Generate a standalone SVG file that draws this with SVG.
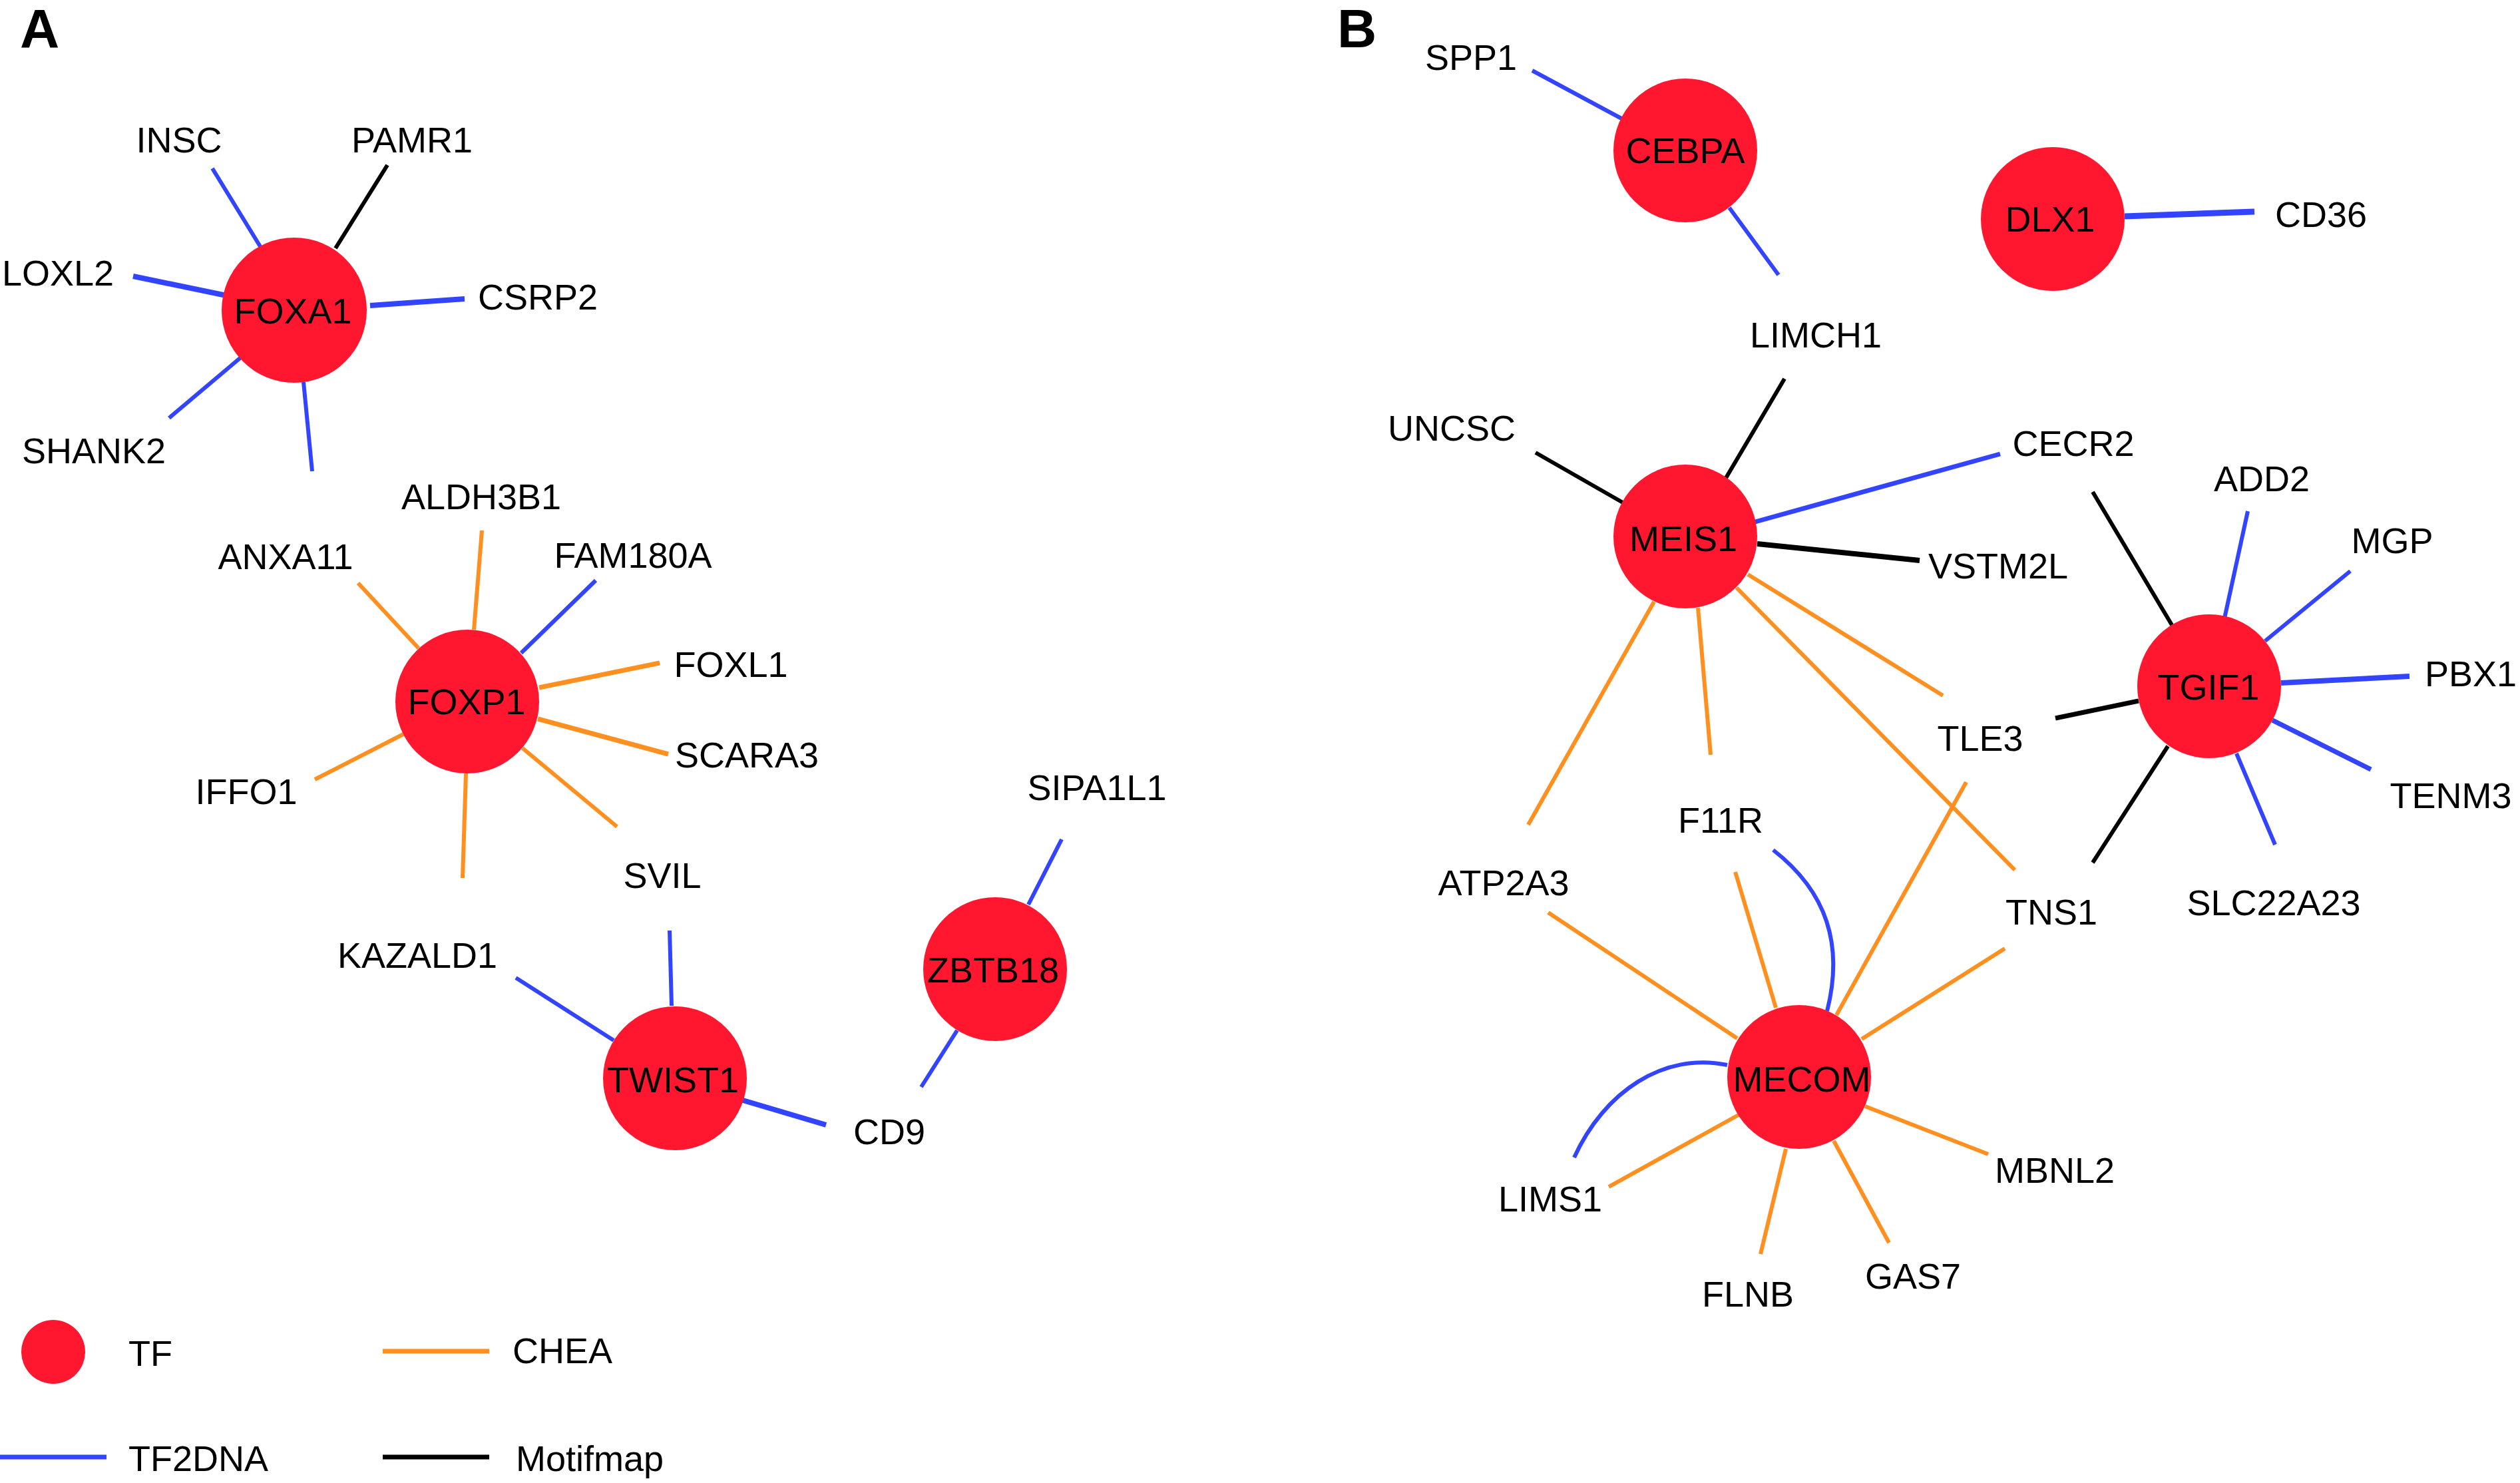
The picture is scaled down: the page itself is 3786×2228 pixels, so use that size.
<svg xmlns="http://www.w3.org/2000/svg" width="3786" height="2228" viewBox="0 0 3786 2228">
<style>
text{font-family:"Liberation Sans",Arial,Helvetica,sans-serif;font-size:54px;fill:#000}
.c{text-anchor:middle}
.panel{font-weight:bold;font-size:82px}
.tf{fill:#FF172F}
line,path{fill:none;stroke-width:6;stroke-linecap:butt}
.b{stroke:#3344FF}
.o{stroke:#FF8F1F}
.k{stroke:#000}
.w7{stroke-width:7}
.w8{stroke-width:8}
.w9{stroke-width:9}
</style>
<rect width="3786" height="2228" fill="#fff"/>
<text class="panel" x="30" y="71">A</text>
<text class="panel" x="2009" y="71">B</text>
<g id="connectors">
<line class="b" x1="319" y1="253" x2="392" y2="372"/>
<line class="k" x1="582" y1="248" x2="504" y2="373"/>
<line class="b w8" x1="200" y1="415" x2="340" y2="444"/>
<line class="b w8" x1="556" y1="459" x2="698" y2="449"/>
<line class="b" x1="254" y1="628" x2="363" y2="536"/>
<line class="b" x1="456" y1="574" x2="469" y2="708"/>
<line class="o" x1="724" y1="797" x2="712" y2="946"/>
<line class="o" x1="538" y1="876" x2="629" y2="974"/>
<line class="b" x1="895" y1="872" x2="783" y2="981"/>
<line class="o w7" x1="991" y1="996" x2="810" y2="1033"/>
<line class="o w7" x1="1004" y1="1133" x2="808" y2="1080"/>
<line class="o" x1="927" y1="1242" x2="785" y2="1124"/>
<line class="o" x1="473" y1="1171" x2="606" y2="1103"/>
<line class="o" x1="700" y1="1162" x2="695" y2="1319"/>
<line class="b" x1="1006" y1="1398" x2="1009" y2="1511"/>
<line class="b" x1="775" y1="1469" x2="922" y2="1563"/>
<line class="b w8" x1="1116" y1="1653" x2="1241" y2="1690"/>
<line class="b" x1="1595" y1="1261" x2="1545" y2="1359"/>
<line class="b" x1="1438" y1="1548" x2="1384" y2="1633"/>
<line class="b" x1="2302" y1="106" x2="2436" y2="178"/>
<line class="b" x1="2598" y1="312" x2="2672" y2="413"/>
<line class="b w9" x1="3192" y1="325" x2="3387" y2="318"/>
<line class="k" x1="2681" y1="569" x2="2593" y2="718"/>
<line class="k" x1="2307" y1="680" x2="2438" y2="755"/>
<line class="b w7" x1="3005" y1="682" x2="2637" y2="784"/>
<line class="k w8" x1="2884" y1="842" x2="2640" y2="817"/>
<line class="o" x1="2626" y1="863" x2="2919" y2="1045"/>
<line class="o" x1="2609" y1="883" x2="3027" y2="1307"/>
<line class="o" x1="2551" y1="913" x2="2570" y2="1134"/>
<line class="o" x1="2485" y1="904" x2="2296" y2="1239"/>
<line class="b" x1="3377" y1="768" x2="3342" y2="929"/>
<line class="k" x1="3144" y1="739" x2="3263" y2="939"/>
<line class="b" x1="3531" y1="858" x2="3403" y2="963"/>
<line class="b w8" x1="3620" y1="1016" x2="3427" y2="1026"/>
<line class="b w7" x1="3562" y1="1156" x2="3414" y2="1082"/>
<line class="b" x1="3418" y1="1269" x2="3360" y2="1132"/>
<line class="k w7" x1="3088" y1="1079" x2="3213" y2="1053"/>
<line class="k" x1="3144" y1="1296" x2="3257" y2="1121"/>
<line class="o" x1="2954" y1="1175" x2="2759" y2="1525"/>
<line class="o" x1="3012" y1="1425" x2="2797" y2="1561"/>
<line class="o" x1="2607" y1="1310" x2="2668" y2="1514"/>
<line class="o" x1="2326" y1="1371" x2="2610" y2="1560"/>
<line class="o" x1="2417" y1="1783" x2="2612" y2="1675"/>
<line class="o" x1="2645" y1="1884" x2="2683" y2="1726"/>
<line class="o" x1="2838" y1="1867" x2="2755" y2="1714"/>
<line class="o" x1="2987" y1="1734" x2="2802" y2="1662"/>
<path class="b" d="M2664,1277 C2745,1340 2770,1420 2745,1519"/>
<path class="b" d="M2365,1739 C2410,1640 2500,1580 2595,1600"/>
</g>
<g id="FOXA1"><circle class="tf" cx="442" cy="466" r="109"/><text class="c" x="440" y="486">FOXA1</text></g>
<g id="FOXP1"><circle class="tf" cx="702" cy="1054" r="108"/><text class="c" x="701" y="1073">FOXP1</text></g>
<g id="TWIST1"><circle class="tf" cx="1014" cy="1620" r="108"/><text class="c" x="1011" y="1641">TWIST1</text></g>
<g id="ZBTB18"><circle class="tf" cx="1495" cy="1456" r="108"/><text class="c" x="1492" y="1476">ZBTB18</text></g>
<g id="CEBPA"><circle class="tf" cx="2532" cy="226" r="108"/><text class="c" x="2532" y="245">CEBPA</text></g>
<g id="DLX1"><circle class="tf" cx="3084" cy="329" r="108"/><text class="c" x="3080" y="348">DLX1</text></g>
<g id="MEIS1"><circle class="tf" cx="2532" cy="806" r="108"/><text class="c" x="2529" y="828">MEIS1</text></g>
<g id="TGIF1"><circle class="tf" cx="3319" cy="1031" r="108"/><text class="c" x="3318" y="1051">TGIF1</text></g>
<g id="MECOM"><circle class="tf" cx="2703" cy="1618" r="108"/><text class="c" x="2707" y="1640">MECOM</text></g>
<g id="INSC"><text class="c" x="269" y="229">INSC</text></g>
<g id="PAMR1"><text class="c" x="619" y="229">PAMR1</text></g>
<g id="LOXL2"><text class="c" x="87" y="429">LOXL2</text></g>
<g id="CSRP2"><text class="c" x="808" y="465">CSRP2</text></g>
<g id="SHANK2"><text class="c" x="141" y="696">SHANK2</text></g>
<g id="ALDH3B1"><text class="c" x="723" y="765">ALDH3B1</text></g>
<g id="ANXA11"><text class="c" x="429" y="855">ANXA11</text></g>
<g id="FAM180A"><text class="c" x="951" y="853">FAM180A</text></g>
<g id="FOXL1"><text class="c" x="1098" y="1017">FOXL1</text></g>
<g id="SCARA3"><text class="c" x="1122" y="1153">SCARA3</text></g>
<g id="IFFO1"><text class="c" x="370" y="1208">IFFO1</text></g>
<g id="SVIL"><text class="c" x="995" y="1334">SVIL</text></g>
<g id="KAZALD1"><text class="c" x="627" y="1454">KAZALD1</text></g>
<g id="SIPA1L1"><text class="c" x="1648" y="1202">SIPA1L1</text></g>
<g id="CD9"><text class="c" x="1336" y="1719">CD9</text></g>
<g id="SPP1"><text class="c" x="2210" y="105">SPP1</text></g>
<g id="LIMCH1"><text class="c" x="2728" y="522">LIMCH1</text></g>
<g id="CD36"><text class="c" x="3487" y="341">CD36</text></g>
<g id="UNCSC"><text class="c" x="2181" y="662">UNCSC</text></g>
<g id="CECR2"><text class="c" x="3115" y="685">CECR2</text></g>
<g id="VSTM2L"><text class="c" x="3002" y="869">VSTM2L</text></g>
<g id="ADD2"><text class="c" x="3398" y="738">ADD2</text></g>
<g id="MGP"><text class="c" x="3594" y="831">MGP</text></g>
<g id="PBX1"><text class="c" x="3712" y="1031">PBX1</text></g>
<g id="TLE3"><text class="c" x="2975" y="1128">TLE3</text></g>
<g id="TENM3"><text class="c" x="3682" y="1214">TENM3</text></g>
<g id="SLC22A23"><text class="c" x="3416" y="1375">SLC22A23</text></g>
<g id="F11R"><text class="c" x="2585" y="1251">F11R</text></g>
<g id="ATP2A3"><text class="c" x="2259" y="1345">ATP2A3</text></g>
<g id="TNS1"><text class="c" x="3082" y="1389">TNS1</text></g>
<g id="LIMS1"><text class="c" x="2329" y="1820">LIMS1</text></g>
<g id="FLNB"><text class="c" x="2626" y="1963">FLNB</text></g>
<g id="GAS7"><text class="c" x="2874" y="1936">GAS7</text></g>
<g id="MBNL2"><text class="c" x="3087" y="1777">MBNL2</text></g>
<g id="legend">
<circle class="tf" cx="80" cy="2031" r="48"/>
<text x="193" y="2052">TF</text>
<line class="o w7" x1="575" y1="2030" x2="735" y2="2030"/>
<text x="770" y="2048">CHEA</text>
<line class="b w7" x1="0" y1="2189" x2="160" y2="2189"/>
<text x="193" y="2210">TF2DNA</text>
<line class="k w7" x1="575" y1="2189" x2="735" y2="2189"/>
<text x="775" y="2210">Motifmap</text>
</g>
</svg>
